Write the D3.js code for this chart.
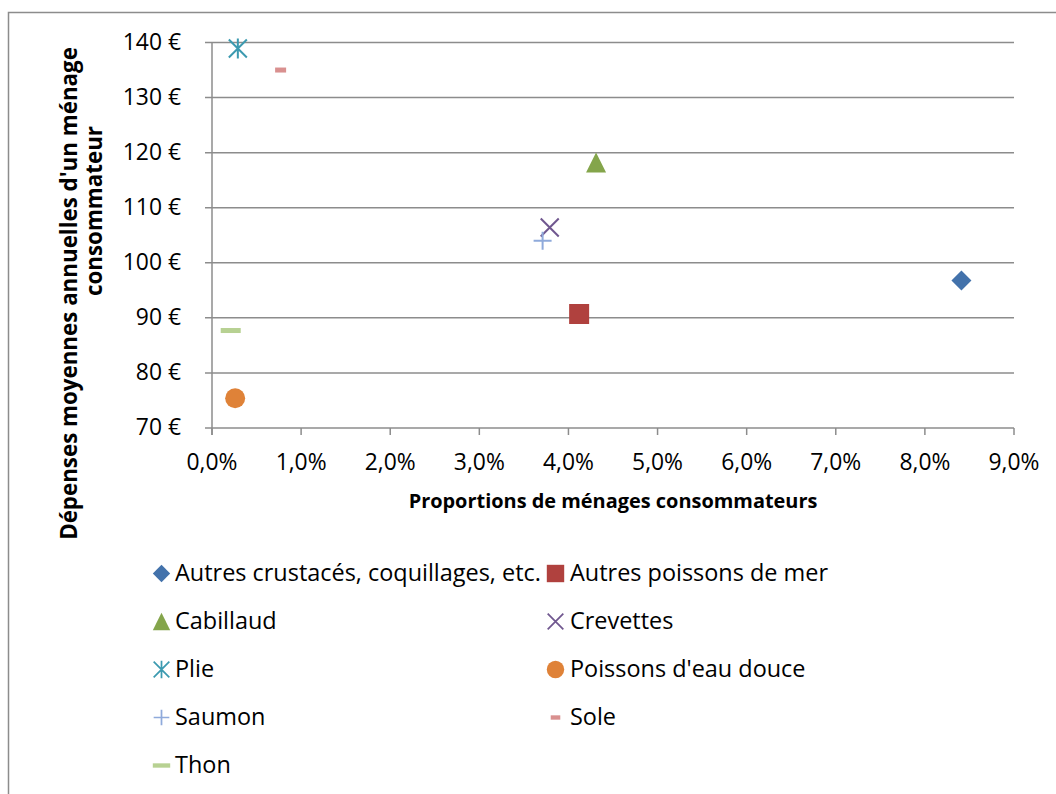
<!DOCTYPE html>
<html><head><meta charset="utf-8">
<script src="https://cdn.jsdelivr.net/npm/d3@7"></script>
<style>body{margin:0;background:#fff;} svg{display:block;font-family:"Open Sans", sans-serif;}</style>
</head><body>
<svg id="c" width="1056" height="794"></svg>
<script>
const seriesNames = ["Autres crustacés, coquillages, etc.","Autres poissons de mer","Cabillaud","Crevettes","Plie","Poissons d'eau douce","Saumon","Sole","Thon"];
const xValues = [8.41, 4.12, 4.31, 3.79, 0.29, 0.26, 3.71, 0.77, 0.21];
const yValues = [96.8, 90.7, 118.2, 106.4, 138.9, 75.4, 104.0, 135.0, 87.7];
const markers = ["diamond","square","triangle","x","asterisk","circle","plus","dashShort","dashLong"];
const colors = ["#4372AB","#B0413E","#84A54B","#70578F","#3C9AB0","#DF8238","#8FAADB","#D9908F","#B7D192"];
const xTicks = [0,1,2,3,4,5,6,7,8,9];
const yTicks = [70,80,90,100,110,120,130,140];
const xTitle = "Proportions de ménages consommateurs";
const yTitle = ["Dépenses moyennes annuelles d'un ménage","consommateur"];

const svg = d3.select("#c");
svg.append("rect").attr("x",8.5).attr("y",12.5).attr("width",1200).attr("height",1000)
  .attr("fill","#fff").attr("stroke","#8c8c8c").attr("stroke-width",1.5);

// font size fitting helper (match reference text widths)
function fitSize(str, target, weight){
  const t = svg.append("text").attr("font-size",20).attr("font-weight",weight||"normal").text(str);
  const w = t.node().getComputedTextLength(); t.remove();
  return 20*target/w;
}
const fsLegend = fitSize(seriesNames[0], 366);
const fsTick = fitSize("9,0%", 51);
const fsXTitle = fitSize(xTitle, 409, "bold");
const fsYTitle = fitSize(yTitle[0], 493, "bold");

const L=212, R=1014, T=42.5, B=428;
const x = d3.scaleLinear().domain([0,9]).range([L,R]);
const y = d3.scaleLinear().domain([70,140]).range([B,T]);

svg.append("g").selectAll("line").data(yTicks).join("line")
  .attr("x1",L-7).attr("x2",R).attr("y1",d=>y(d)).attr("y2",d=>y(d))
  .attr("stroke","#8c8c8c").attr("stroke-width",1.5);
svg.append("line").attr("x1",L).attr("x2",L).attr("y1",T).attr("y2",B+7)
  .attr("stroke","#8c8c8c").attr("stroke-width",1.5);
svg.append("g").selectAll("line").data(xTicks).join("line")
  .attr("x1",d=>x(d)).attr("x2",d=>x(d)).attr("y1",B).attr("y2",B+7)
  .attr("stroke","#8c8c8c").attr("stroke-width",1.5);

const fmtX = d => d.toFixed(1).replace(".",",")+"%";
svg.append("g").selectAll("text").data(xTicks).join("text")
  .attr("x",d=>x(d)).attr("y",B+42).attr("text-anchor","middle")
  .attr("font-size",fsTick).attr("fill","#000").text(fmtX);
svg.append("g").selectAll("text").data(yTicks).join("text")
  .attr("x",181).attr("y",d=>y(d)+7).attr("text-anchor","end")
  .attr("font-size",fsTick).attr("fill","#000").text(d=>d+" €");

svg.append("text").attr("x",(L+R)/2).attr("y",508).attr("text-anchor","middle")
  .attr("font-size",fsXTitle).attr("font-weight","bold").text(xTitle);
svg.append("text").attr("transform","translate(77,293.5) rotate(-90)")
  .attr("text-anchor","middle").attr("font-size",fsYTitle).attr("font-weight","bold").text(yTitle[0]);
svg.append("text").attr("transform","translate(102,211) rotate(-90)")
  .attr("text-anchor","middle").attr("font-size",fsYTitle).attr("font-weight","bold").text(yTitle[1]);

function drawMarker(g, type, color){
  const s = 10;
  if(type==="diamond") g.append("path").attr("d",`M0,-${s}L${s},0L0,${s}L-${s},0Z`).attr("fill",color);
  else if(type==="square") g.append("rect").attr("x",-s).attr("y",-s).attr("width",2*s).attr("height",2*s).attr("fill",color);
  else if(type==="triangle") g.append("path").attr("d",`M0,-${s}L${s},${s}L-${s},${s}Z`).attr("fill",color);
  else if(type==="circle") g.append("circle").attr("r",s).attr("fill",color);
  else if(type==="x") g.append("path").attr("d",`M-9,-9L9,9M-9,9L9,-9`).attr("stroke",color).attr("stroke-width",2);
  else if(type==="plus") g.append("path").attr("d",`M-9,0L9,0M0,-9L0,9`).attr("stroke",color).attr("stroke-width",2);
  else if(type==="asterisk") g.append("path").attr("d",`M-9,-9L9,9M-9,9L9,-9M0,-10L0,10`).attr("stroke",color).attr("stroke-width",2);
  else if(type==="dashShort") g.append("rect").attr("x",-5.5).attr("y",-2.5).attr("width",11).attr("height",5).attr("fill",color);
  else if(type==="dashLong") g.append("rect").attr("x",-10).attr("y",-2.5).attr("width",20).attr("height",5).attr("fill",color);
}

seriesNames.forEach((n,i)=>{
  const g = svg.append("g").attr("transform",`translate(${x(xValues[i])},${y(yValues[i])})`);
  drawMarker(g, markers[i], colors[i]);
});

const colX = [161.5, 555.5], textX = [175, 570], rowY0 = 573.5, rowDy = 48;
seriesNames.forEach((n,i)=>{
  const col = i%2, row = Math.floor(i/2);
  const cx = colX[col], cy = rowY0 + row*rowDy;
  const g = svg.append("g").attr("transform",`translate(${cx},${cy}) scale(0.87)`);
  drawMarker(g, markers[i], colors[i]);
  svg.append("text").attr("x",textX[col]).attr("y",cy+7.5).attr("font-size",fsLegend).text(n);
});
</script>
</body></html>
